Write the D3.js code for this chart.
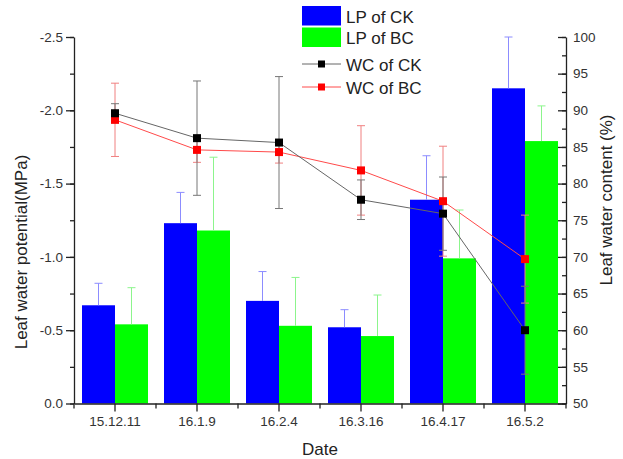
<!DOCTYPE html>
<html>
<head>
<meta charset="utf-8">
<script src="https://cdn.jsdelivr.net/npm/d3@7"></script>
<style>
  body { margin: 0; background: #fff; }
  svg { font-family: 'Liberation Sans', Arial, sans-serif; }
</style>
</head>
<body>
<svg width="623" height="459"></svg>
<script>
const width = 623,
  height = 459;
const svg = d3.select('svg');

// chart values
const dates = ['15.12.11', '16.1.9', '16.2.4', '16.3.16', '16.4.17', '16.5.2'];
const lpCK = [-0.67, -1.23, -0.7, -0.52, -1.39, -2.15];
const lpCKErr = [0.15, 0.21, 0.2, 0.12, 0.3, 0.35];
const lpBC = [-0.54, -1.18, -0.53, -0.46, -0.99, -1.79];
const lpBCErr = [0.25, 0.5, 0.33, 0.28, 0.33, 0.24];
const wcCK = [89.6, 86.2, 85.6, 77.8, 75.9, 60.0];
const wcCKErr = [1.3, 7.8, 9.0, 2.7, 5.0, 6.0];
const wcBC = [88.7, 84.6, 84.3, 81.8, 77.6, 69.7];
const wcBCErr = [5.0, 1.7, 1.5, 6.1, 7.5, 6.0];
const leftTicks = [0, -0.5, -1.0, -1.5, -2.0, -2.5];
const rightTicks = [50, 55, 60, 65, 70, 75, 80, 85, 90, 95, 100];

const plotLeft = 74,
  plotRight = 566,
  plotTop = 37,
  plotBottom = 403.5;

const x = d3.scaleBand().domain(dates).range([plotLeft, plotRight]).padding(0);
const y = d3.scaleLinear().domain([0, -2.5]).range([plotBottom, plotTop]);
const y2 = d3.scaleLinear().domain([50, 100]).range([plotBottom, plotTop]);
const barW = 33;

const bars = [
  { vals: lpCK, err: lpCKErr, fill: '#0000ff', errColor: '#8c8cff', off: -barW },
  { vals: lpBC, err: lpBCErr, fill: '#00ff00', errColor: '#8cf58c', off: 0 },
];

// bars
bars.forEach((s) => {
  const cx = (i) => x(dates[i]) + x.bandwidth() / 2 + s.off;
  svg
    .append('g')
    .selectAll('rect')
    .data(s.vals)
    .join('rect')
    .attr('x', (d, i) => cx(i))
    .attr('y', (d) => y(d))
    .attr('width', barW)
    .attr('height', (d) => y(0) - y(d))
    .attr('fill', s.fill);
});

// bar error bars (upward only)
bars.forEach((s) => {
  const g = svg.append('g').attr('stroke', s.errColor).attr('stroke-width', 1);
  s.vals.forEach((v, i) => {
    const cx = x(dates[i]) + x.bandwidth() / 2 + s.off + barW / 2;
    const yt = y(v - s.err[i]);
    g.append('line').attr('x1', cx).attr('x2', cx).attr('y1', y(v)).attr('y2', yt);
    g.append('line').attr('x1', cx - 4).attr('x2', cx + 4).attr('y1', yt).attr('y2', yt);
  });
});

// water content lines
const lines = [
  { vals: wcBC, err: wcBCErr, line: '#ff4a4a', errColor: '#f08080', mark: '#ff0000' },
  { vals: wcCK, err: wcCKErr, line: '#666', errColor: '#777', mark: '#000' },
];
const lineGen = d3
  .line()
  .x((d, i) => x(dates[i]) + x.bandwidth() / 2)
  .y((d) => y2(d));

lines.forEach((s) => {
  const g = svg.append('g').attr('stroke', s.errColor).attr('stroke-width', 1);
  s.vals.forEach((v, i) => {
    const cx = x(dates[i]) + x.bandwidth() / 2;
    const y1 = y2(v + s.err[i]),
      yb = y2(v - s.err[i]);
    g.append('line').attr('x1', cx).attr('x2', cx).attr('y1', y1).attr('y2', yb);
    g.append('line').attr('x1', cx - 4).attr('x2', cx + 4).attr('y1', y1).attr('y2', y1);
    g.append('line').attr('x1', cx - 4).attr('x2', cx + 4).attr('y1', yb).attr('y2', yb);
  });
});
lines.forEach((s) => {
  svg
    .append('path')
    .datum(s.vals)
    .attr('fill', 'none')
    .attr('stroke', s.line)
    .attr('stroke-width', 1)
    .attr('d', lineGen);
  svg
    .append('g')
    .selectAll('rect')
    .data(s.vals)
    .join('rect')
    .attr('x', (d, i) => x(dates[i]) + x.bandwidth() / 2 - 4)
    .attr('y', (d) => y2(d) - 4)
    .attr('width', 8)
    .attr('height', 8)
    .attr('fill', s.mark);
});

// axes
const fmt = (d) => d.toFixed(1);
const axisStyle = (g) => {
  g.selectAll('path, line').attr('stroke', '#222').attr('stroke-width', 1.3);
  g.selectAll('text').attr('fill', '#333').style('font-size', '13.5px').style('font-family', "'Liberation Sans', Arial, sans-serif");
};

svg
  .append('g')
  .attr('transform', `translate(${plotLeft},0)`)
  .call(d3.axisLeft(y).tickValues(d3.range(0, -2.75, -0.25)).tickSize(4).tickFormat(''))
  .call((g) => g.select('.domain').remove())
  .call(axisStyle);
svg
  .append('g')
  .attr('transform', `translate(${plotLeft},0)`)
  .call(d3.axisLeft(y).tickValues(leftTicks).tickSize(8).tickSizeOuter(0).tickPadding(3).tickFormat(fmt))
  .call(axisStyle);

svg
  .append('g')
  .attr('transform', `translate(${plotRight},0)`)
  .call(d3.axisRight(y2).tickValues(d3.range(50, 102.5, 2.5)).tickSize(-4).tickFormat(''))
  .call((g) => g.select('.domain').remove())
  .call(axisStyle);
svg
  .append('g')
  .attr('transform', `translate(${plotRight},0)`)
  .call(d3.axisRight(y2).tickValues(rightTicks).tickSize(-8).tickSizeOuter(0).tickPadding(7))
  .call(axisStyle);

// bottom axis with minor ticks at band edges
svg
  .append('g')
  .attr('transform', `translate(0,${plotBottom})`)
  .selectAll('line')
  .data(dates.concat(['end']))
  .join('line')
  .attr('x1', (d) => (d === 'end' ? plotRight : x(d)))
  .attr('x2', (d) => (d === 'end' ? plotRight : x(d)))
  .attr('y1', 0)
  .attr('y2', 5)
  .attr('stroke', '#222')
  .attr('stroke-width', 1.3);
svg
  .append('g')
  .attr('transform', `translate(0,${plotBottom})`)
  .call(d3.axisBottom(x).tickSize(8).tickSizeOuter(0).tickPadding(5))
  .call(axisStyle);

// axis titles
svg
  .append('text')
  .attr('transform', 'translate(27,252) rotate(-90)')
  .attr('text-anchor', 'middle')
  .style('font-size', '17px')
  .attr('fill', '#222')
  .text('Leaf water potential(MPa)');
svg
  .append('text')
  .attr('transform', 'translate(612,200) rotate(-90)')
  .attr('text-anchor', 'middle')
  .style('font-size', '17px')
  .attr('fill', '#222')
  .text('Leaf water content (%)');
svg
  .append('text')
  .attr('x', 320)
  .attr('y', 455)
  .attr('text-anchor', 'middle')
  .style('font-size', '17px')
  .attr('fill', '#222')
  .text('Date');

// legend
const legend = svg.append('g').attr('transform', 'translate(302,0)');
const legendBars = [
  { label: 'LP of CK', fill: '#0000ff', y: 6 },
  { label: 'LP of BC', fill: '#00ff00', y: 27.5 },
];
legendBars.forEach((d) => {
  legend.append('rect').attr('x', 0).attr('y', d.y).attr('width', 39).attr('height', 19.5).attr('fill', d.fill);
  legend
    .append('text')
    .attr('x', 44)
    .attr('y', d.y + 16.5)
    .style('font-size', '17px')
    .attr('fill', '#222')
    .text(d.label);
});
const legendLines = [
  { label: 'WC of CK', line: '#666', mark: '#000', y: 64 },
  { label: 'WC of BC', line: '#ff4a4a', mark: '#ff0000', y: 87 },
];
legendLines.forEach((d) => {
  legend.append('line').attr('x1', 0).attr('x2', 39).attr('y1', d.y).attr('y2', d.y).attr('stroke', d.line).attr('stroke-width', 1);
  legend.append('rect').attr('x', 16).attr('y', d.y - 3.5).attr('width', 7).attr('height', 7).attr('fill', d.mark);
  legend
    .append('text')
    .attr('x', 44)
    .attr('y', d.y + 6.5)
    .style('font-size', '17px')
    .attr('fill', '#222')
    .text(d.label);
});
</script>
</body>
</html>
